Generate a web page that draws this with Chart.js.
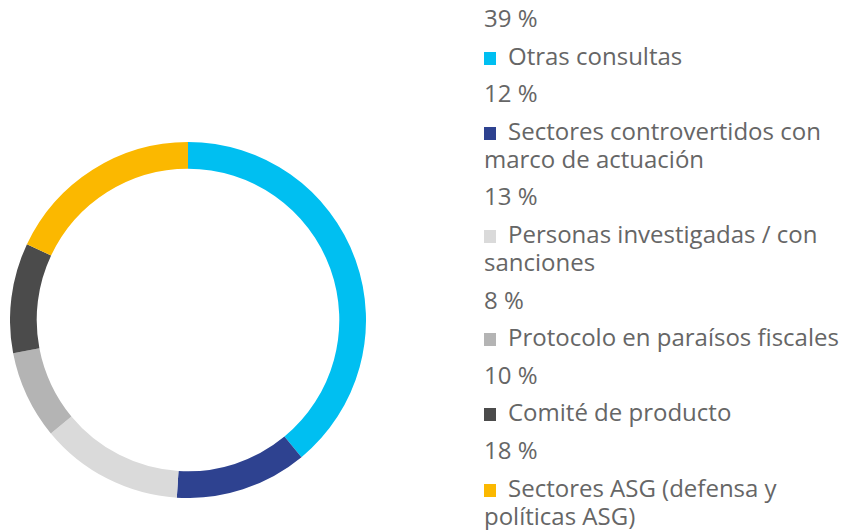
<!DOCTYPE html>
<html lang="es">
<head>
<meta charset="utf-8">
<title>Consultas por tipo</title>
<script src="https://cdn.jsdelivr.net/npm/chart.js@4.4.1/dist/chart.umd.min.js"></script>
<style>
  html, body { margin: 0; padding: 0; background: #fff; }
  body { width: 843px; height: 530px; position: relative; overflow: hidden; font-family: "Open Sans", sans-serif; }
  #donut { position: absolute; left: 10px; top: 142px; width: 356px; height: 356px; }
  #leyenda { position: absolute; left: 484px; top: 4px; width: 359px; color: #666; font-size: 24px; line-height: 28px; }
  #leyenda p { margin: 0 0 9.6px 0; }
  #leyenda .sq { display: inline-block; width: 12px; height: 13px; margin-right: 12px; vertical-align: 0px; }
</style>
</head>
<body>
<div id="donut"><canvas id="consultasChart"></canvas></div>
<div id="leyenda"></div>
<script>
// Tipos de consulta y su peso (%)
const categorias = [
  'Otras consultas',
  'Sectores controvertidos con marco de actuación',
  'Personas investigadas / con sanciones',
  'Protocolo en paraísos fiscales',
  'Comité de producto',
  'Sectores ASG (defensa y políticas ASG)'
];
const porcentajes = [39, 12, 13, 8, 10, 18];
const colores = ['#00bff1', '#2e4290', '#dadada', '#b4b4b4', '#4b4b4b', '#fbb800'];

const ctx = document.getElementById('consultasChart').getContext('2d');
const consultasChart = new Chart(ctx, {
  type: 'doughnut',
  data: {
    labels: categorias,
    datasets: [{
      data: porcentajes,
      backgroundColor: colores,
      borderWidth: 0
    }]
  },
  options: {
    responsive: true,
    maintainAspectRatio: false,
    animation: false,
    cutout: '85%',
    layout: { padding: 0 },
    plugins: {
      legend: { display: false },
      tooltip: { enabled: false }
    }
  }
});

// Leyenda a la derecha: porcentaje y luego la etiqueta con su color
const leyenda = document.getElementById('leyenda');
categorias.forEach(function (cat, i) {
  const pct = document.createElement('p');
  pct.textContent = porcentajes[i] + ' %';
  leyenda.appendChild(pct);

  const item = document.createElement('p');
  const sq = document.createElement('span');
  sq.className = 'sq';
  sq.style.background = colores[i];
  item.appendChild(sq);
  item.appendChild(document.createTextNode(cat));
  leyenda.appendChild(item);
});
</script>
</body>
</html>
